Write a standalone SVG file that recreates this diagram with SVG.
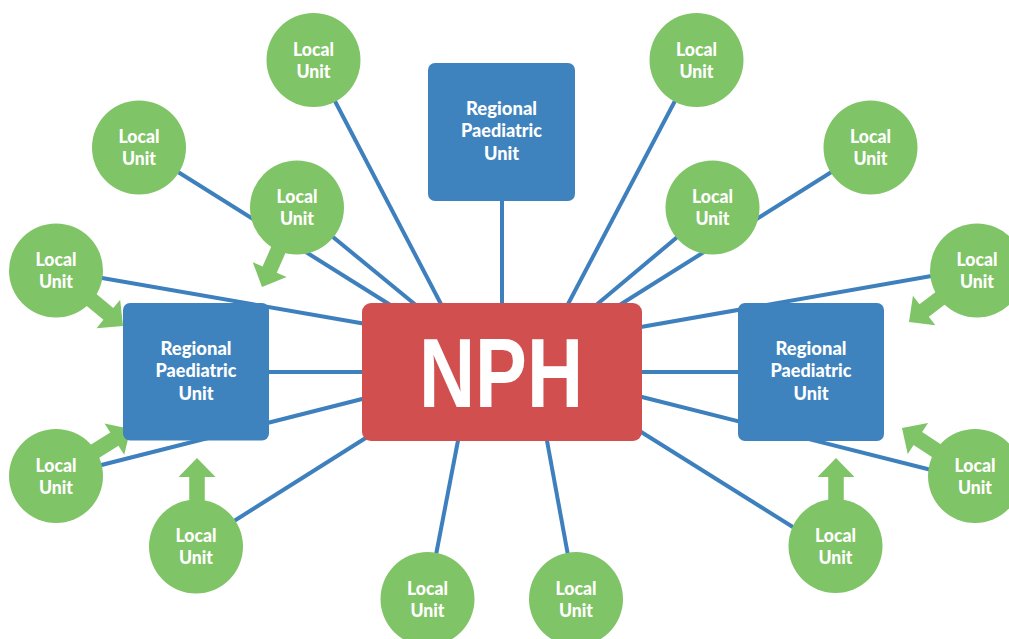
<svg xmlns="http://www.w3.org/2000/svg" xmlns:xlink="http://www.w3.org/1999/xlink" width="1009" height="639" viewBox="0 0 1009 639">
<style>
.link{stroke:#3d80bd;stroke-width:4;fill:none;stroke-linecap:butt}
.lu{fill:#7fc466}
.arr{fill:#7fc466}
.rpu{fill:#3e83bd}
.nph{fill:#d24f4f}
.t{font-family:Lato,"Open Sans","Liberation Sans",sans-serif;font-weight:900;font-size:19px;fill:#ffffff;text-anchor:middle}
.big{font-family:"Liberation Sans",Arial,sans-serif;font-weight:700;font-size:98px;fill:#ffffff;text-anchor:middle}
</style>
<defs>
<path id="arrow" d="M0,0 L-19,-18.5 L-19,-7.75 L-80,-7.75 L-80,7.75 L-19,7.75 L-19,18.5 Z"/>
</defs>
<rect width="1009" height="639" fill="#ffffff"/>
<g id="connectors">
<line class="link" x1="313.5" y1="60" x2="442" y2="306"/>
<line class="link" x1="139" y1="147.5" x2="392" y2="306"/>
<line class="link" x1="297" y1="207.5" x2="417" y2="306"/>
<line class="link" x1="56" y1="270" x2="366" y2="324"/>
<line class="link" x1="260" y1="372" x2="366" y2="372"/>
<line class="link" x1="56" y1="476.5" x2="366" y2="398"/>
<line class="link" x1="196" y1="545" x2="372" y2="434"/>
<line class="link" x1="427.5" y1="599" x2="458.5" y2="438"/>
<line class="link" x1="576" y1="599" x2="546.5" y2="438"/>
<line class="link" x1="696.5" y1="60" x2="567" y2="306"/>
<line class="link" x1="870.5" y1="147.5" x2="618" y2="306"/>
<line class="link" x1="712.5" y1="207.5" x2="595" y2="306"/>
<line class="link" x1="977" y1="268" x2="638" y2="327.5"/>
<line class="link" x1="638" y1="372" x2="745" y2="372"/>
<line class="link" x1="975" y1="481" x2="638" y2="396"/>
<line class="link" x1="638" y1="430" x2="820" y2="544"/>
<line class="link" x1="502" y1="195" x2="502" y2="306"/>
</g>
<g id="feeds">
<use xlink:href="#arrow" class="arr" transform="translate(262,287) rotate(113.8)"/>
<use xlink:href="#arrow" class="arr" transform="translate(123,326) rotate(39.6)"/>
<use xlink:href="#arrow" class="arr" transform="translate(130.5,429) rotate(-32)"/>
<use xlink:href="#arrow" class="arr" transform="translate(197,458) rotate(-90)"/>
<use xlink:href="#arrow" class="arr" transform="translate(909,322) rotate(142.8)"/>
<use xlink:href="#arrow" class="arr" transform="translate(902,428) rotate(-146.7)"/>
<use xlink:href="#arrow" class="arr" transform="translate(836,458) rotate(-90)"/>
</g>
<g id="lu1"><circle class="lu" cx="313.5" cy="60" r="47"/><text class="t" x="313.5" y="55.5" textLength="41" lengthAdjust="spacingAndGlyphs">Local</text><text class="t" x="313.5" y="77.5" textLength="34" lengthAdjust="spacingAndGlyphs">Unit</text></g>
<g id="lu2"><circle class="lu" cx="139" cy="147.5" r="47"/><text class="t" x="139" y="143" textLength="41" lengthAdjust="spacingAndGlyphs">Local</text><text class="t" x="139" y="165" textLength="34" lengthAdjust="spacingAndGlyphs">Unit</text></g>
<g id="lu3"><circle class="lu" cx="297" cy="207.5" r="47"/><text class="t" x="297" y="203" textLength="41" lengthAdjust="spacingAndGlyphs">Local</text><text class="t" x="297" y="225" textLength="34" lengthAdjust="spacingAndGlyphs">Unit</text></g>
<g id="lu4"><circle class="lu" cx="56" cy="270.5" r="47"/><text class="t" x="56" y="266" textLength="41" lengthAdjust="spacingAndGlyphs">Local</text><text class="t" x="56" y="288" textLength="34" lengthAdjust="spacingAndGlyphs">Unit</text></g>
<g id="lu5"><circle class="lu" cx="56" cy="476" r="47"/><text class="t" x="56" y="471.5" textLength="41" lengthAdjust="spacingAndGlyphs">Local</text><text class="t" x="56" y="493.5" textLength="34" lengthAdjust="spacingAndGlyphs">Unit</text></g>
<g id="lu6"><circle class="lu" cx="196" cy="546.5" r="47"/><text class="t" x="196" y="542" textLength="41" lengthAdjust="spacingAndGlyphs">Local</text><text class="t" x="196" y="564" textLength="34" lengthAdjust="spacingAndGlyphs">Unit</text></g>
<g id="lu7"><circle class="lu" cx="427.5" cy="599" r="47"/><text class="t" x="427.5" y="594.5" textLength="41" lengthAdjust="spacingAndGlyphs">Local</text><text class="t" x="427.5" y="616.5" textLength="34" lengthAdjust="spacingAndGlyphs">Unit</text></g>
<g id="lu8"><circle class="lu" cx="576" cy="599" r="47"/><text class="t" x="576" y="594.5" textLength="41" lengthAdjust="spacingAndGlyphs">Local</text><text class="t" x="576" y="616.5" textLength="34" lengthAdjust="spacingAndGlyphs">Unit</text></g>
<g id="lu9"><circle class="lu" cx="696.5" cy="60" r="47"/><text class="t" x="696.5" y="55.5" textLength="41" lengthAdjust="spacingAndGlyphs">Local</text><text class="t" x="696.5" y="77.5" textLength="34" lengthAdjust="spacingAndGlyphs">Unit</text></g>
<g id="lu10"><circle class="lu" cx="870.5" cy="147.5" r="47"/><text class="t" x="870.5" y="143" textLength="41" lengthAdjust="spacingAndGlyphs">Local</text><text class="t" x="870.5" y="165" textLength="34" lengthAdjust="spacingAndGlyphs">Unit</text></g>
<g id="lu11"><circle class="lu" cx="712.5" cy="207.5" r="47"/><text class="t" x="712.5" y="203" textLength="41" lengthAdjust="spacingAndGlyphs">Local</text><text class="t" x="712.5" y="225" textLength="34" lengthAdjust="spacingAndGlyphs">Unit</text></g>
<g id="lu12"><circle class="lu" cx="977" cy="270.5" r="47"/><text class="t" x="977" y="266" textLength="41" lengthAdjust="spacingAndGlyphs">Local</text><text class="t" x="977" y="288" textLength="34" lengthAdjust="spacingAndGlyphs">Unit</text></g>
<g id="lu13"><circle class="lu" cx="975" cy="476" r="47"/><text class="t" x="975" y="471.5" textLength="41" lengthAdjust="spacingAndGlyphs">Local</text><text class="t" x="975" y="493.5" textLength="34" lengthAdjust="spacingAndGlyphs">Unit</text></g>
<g id="lu14"><circle class="lu" cx="835.5" cy="546" r="47"/><text class="t" x="835.5" y="541.5" textLength="41" lengthAdjust="spacingAndGlyphs">Local</text><text class="t" x="835.5" y="563.5" textLength="34" lengthAdjust="spacingAndGlyphs">Unit</text></g>
<g id="rpu-top"><rect class="rpu" x="428" y="63" width="147" height="138" rx="7"/><text class="t" x="501.5" y="115" textLength="71" lengthAdjust="spacingAndGlyphs">Regional</text><text class="t" x="501.5" y="137" textLength="81" lengthAdjust="spacingAndGlyphs">Paediatric</text><text class="t" x="501.5" y="159.5" textLength="35" lengthAdjust="spacingAndGlyphs">Unit</text></g>
<g id="rpu-left"><rect class="rpu" x="123" y="303" width="146" height="137.5" rx="7"/><text class="t" x="196" y="355" textLength="71" lengthAdjust="spacingAndGlyphs">Regional</text><text class="t" x="196" y="377" textLength="81" lengthAdjust="spacingAndGlyphs">Paediatric</text><text class="t" x="196" y="399.5" textLength="35" lengthAdjust="spacingAndGlyphs">Unit</text></g>
<g id="rpu-right"><rect class="rpu" x="738" y="303" width="146" height="138" rx="7"/><text class="t" x="811" y="355" textLength="71" lengthAdjust="spacingAndGlyphs">Regional</text><text class="t" x="811" y="377" textLength="81" lengthAdjust="spacingAndGlyphs">Paediatric</text><text class="t" x="811" y="399.5" textLength="35" lengthAdjust="spacingAndGlyphs">Unit</text></g>
<g id="nph"><rect class="nph" x="362" y="303" width="280" height="138" rx="9"/><text class="big" x="501" y="407" textLength="164" lengthAdjust="spacingAndGlyphs">NPH</text></g>
</svg>
